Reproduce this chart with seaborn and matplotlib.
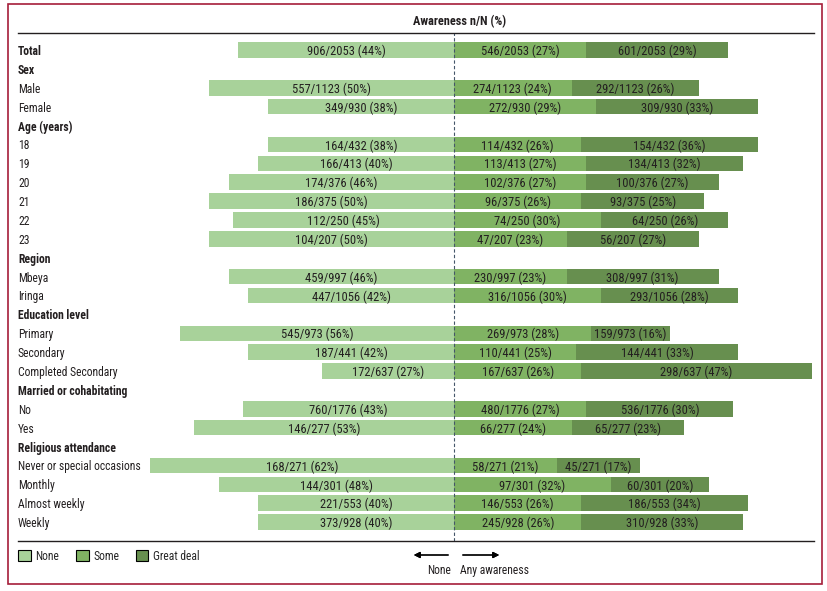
import matplotlib
matplotlib.use("Agg")
import matplotlib.pyplot as plt
from matplotlib.patches import Patch, Rectangle
import seaborn as sns
import pandas as pd

# rows from top to bottom; headings have no bars
order = ["Total", "Sex", "Male", "Female", "Age (years)", "18", "19", "20", "21", "22", "23",
         "Region", "Mbeya", "Iringa", "Education level", "Primary", "Secondary",
         "Completed Secondary", "Married or cohabitating", "No", "Yes",
         "Religious attendance", "Never or special occasions", "Monthly", "Almost weekly", "Weekly"]
headings = ["Total", "Sex", "Age (years)", "Region", "Education level",
            "Married or cohabitating", "Religious attendance"]

groups = ["Total", "Male", "Female", "18", "19", "20", "21", "22", "23", "Mbeya", "Iringa",
          "Primary", "Secondary", "Completed Secondary", "No", "Yes",
          "Never or special occasions", "Monthly", "Almost weekly", "Weekly"]
n_total = [2053, 1123, 930, 432, 413, 376, 375, 250, 207, 997, 1056, 973, 441, 637, 1776, 277, 271, 301, 553, 928]
n_none = [906, 557, 349, 164, 166, 174, 186, 112, 104, 459, 447, 545, 187, 172, 760, 146, 168, 144, 221, 373]
n_some = [546, 274, 272, 114, 113, 102, 96, 74, 47, 230, 316, 269, 110, 167, 480, 66, 58, 97, 146, 245]
n_great = [601, 292, 309, 154, 134, 100, 93, 64, 56, 308, 293, 159, 144, 298, 536, 65, 45, 60, 186, 310]
pct_none = [44, 50, 38, 38, 40, 46, 50, 45, 50, 46, 42, 56, 42, 27, 43, 53, 62, 48, 40, 40]
pct_some = [27, 24, 29, 26, 27, 27, 26, 30, 23, 23, 30, 28, 25, 26, 27, 24, 21, 32, 26, 26]
pct_great = [29, 26, 33, 36, 32, 27, 25, 26, 27, 31, 28, 16, 33, 47, 30, 23, 17, 20, 34, 33]

c_none = "#a8d29a"
c_some = "#80b363"
c_great = "#678f4f"
txt = "#231f20"


def main():
    sns.set_style("white")
    plt.rcParams["font.family"] = ["Roboto Condensed", "Lato", "DejaVu Sans"]

    df = pd.DataFrame({"group": groups, "none": pct_none, "some": pct_some, "great": pct_great})
    df["none_neg"] = -df["none"]
    df["stack"] = df["some"] + df["great"]

    W, H = 828, 591
    fig = plt.figure(figsize=(W / 100, H / 100), dpi=100)
    ax = fig.add_axes([18 / W, 1 - 541 / H, (814 - 18) / W, (541 - 33) / H])

    bar_kw = dict(y="group", order=order, orient="h", errorbar=None, width=0.82,
                  saturation=1, linewidth=0, ax=ax)
    sns.barplot(data=df, x="none_neg", color=c_none, **bar_kw)
    sns.barplot(data=df, x="stack", color=c_great, **bar_kw)
    sns.barplot(data=df, x="some", color=c_some, **bar_kw)

    ax.set_xlim((18 - 454) / 4.9, (814 - 454) / 4.9)
    ax.set_ylim(len(order) - 1 + 1.0, -0.9)
    ax.set_xlabel("")
    ax.set_ylabel("")
    ax.set_xticks([])
    ax.set_yticks([])
    for s in ["left", "right"]:
        ax.spines[s].set_visible(False)
    for s in ["top", "bottom"]:
        ax.spines[s].set_color("#231f20")
        ax.spines[s].set_linewidth(1.0)
    ax.axvline(0, color="#45566a", lw=0.8, ls=(0, (3, 2)))

    fs = 8.4
    fs_bar = 9.0
    for i, name in enumerate(order):
        ax.text(0, i, name, transform=ax.get_yaxis_transform(), ha="left", va="center_baseline",
                fontsize=fs, color=txt, fontweight="bold" if name in headings else "normal")

    for k, g in enumerate(groups):
        i = order.index(g)
        N = n_total[k]
        ax.text(-pct_none[k] / 2, i, f"{n_none[k]}/{N} ({pct_none[k]}%)", ha="center",
                va="center_baseline", fontsize=fs_bar, color=txt)
        ax.text(pct_some[k] / 2, i, f"{n_some[k]}/{N} ({pct_some[k]}%)", ha="center",
                va="center_baseline", fontsize=fs_bar, color=txt)
        ax.text(pct_some[k] + pct_great[k] / 2, i, f"{n_great[k]}/{N} ({pct_great[k]}%)",
                ha="center", va="center_baseline", fontsize=fs_bar, color=txt)

    fig.text(460 / W, 1 - 20 / H, "Awareness n/N (%)", ha="center", va="center_baseline",
             fontsize=8.8, fontweight="bold", color=txt)

    # arrows under the bars
    ay = 1 - 555 / H
    fig.add_artist(plt.annotate("", xy=(411 / W, ay), xytext=(451 / W, ay), xycoords="figure fraction",
                                arrowprops=dict(arrowstyle="-|>", color="black", lw=0.9,
                                                mutation_scale=9)))
    fig.add_artist(plt.annotate("", xy=(502 / W, ay), xytext=(460 / W, ay), xycoords="figure fraction",
                                arrowprops=dict(arrowstyle="-|>", color="black", lw=0.9,
                                                mutation_scale=9)))
    fig.text(451 / W, 1 - 569 / H, "None", ha="right", va="center_baseline", fontsize=fs, color=txt)
    fig.text(460 / W, 1 - 569 / H, "Any awareness", ha="left", va="center_baseline", fontsize=fs, color=txt)

    handles = [Patch(facecolor=c, edgecolor="black", linewidth=0.8) for c in (c_none, c_some, c_great)]
    fig.legend(handles, ["None", "Some", "Great deal"], loc="center left",
               bbox_to_anchor=(18 / W, 1 - 556 / H), ncol=3, frameon=False, fontsize=fs,
               handlelength=1.1, handleheight=1.0, handletextpad=0.4, columnspacing=1.4,
               borderaxespad=0, borderpad=0)

    fig.add_artist(Rectangle((8 / W, 1 - 584 / H), (822 - 8) / W, (584 - 4) / H,
                             transform=fig.transFigure, fill=False, edgecolor="#a61e3a", lw=1.2))

    fig.savefig("out.png", dpi=100)


if __name__ == "__main__":
    main()
